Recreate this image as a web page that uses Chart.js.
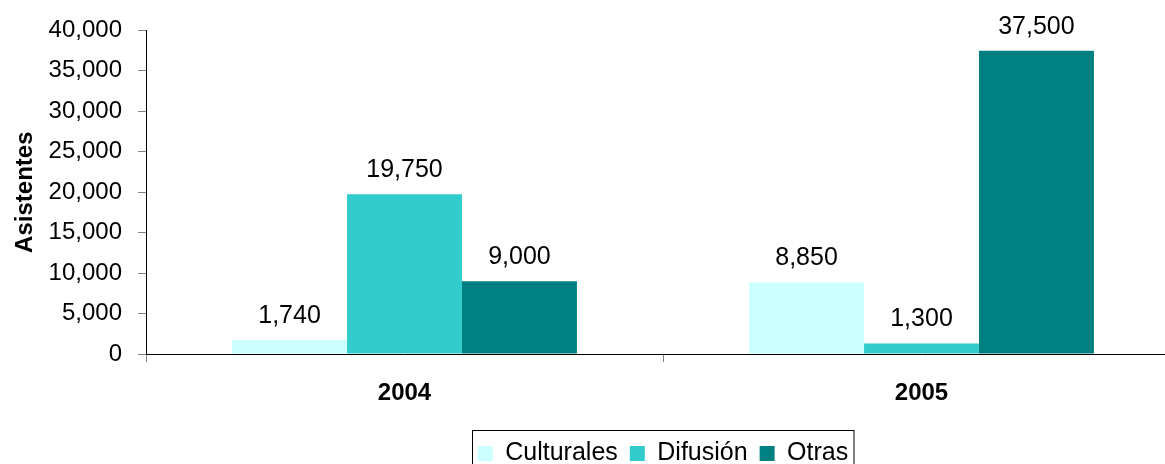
<!DOCTYPE html>
<html>
<head>
<meta charset="utf-8">
<script src="https://cdn.jsdelivr.net/npm/chart.js@4/dist/chart.umd.min.js"></script>
<style>
  html, body { margin: 0; padding: 0; background: #fff; overflow: hidden; }
  #clip { width: 1165px; height: 464px; overflow: hidden; }
  #wrap { width: 1180px; height: 476px; position: relative; }
</style>
</head>
<body>
<div id="clip"><div id="wrap"><canvas id="asistChart"></canvas></div></div>
<script>
// Asistentes por tipo de actividad, 2004-2005

const years = ['2004', '2005'];
const culturales = [1740, 8850];
const difusion = [19750, 1300];
const otras = [9000, 37500];
const yTicks = [0, 5000, 10000, 15000, 20000, 25000, 30000, 35000, 40000];

const FONT = 'Arial, "Liberation Sans", sans-serif';

// etiquetas de valor encima de cada barra
const valueLabels = {
    id: 'valueLabels',
    afterDatasetsDraw(chart) {
        const ctx = chart.ctx;
        ctx.save();
        ctx.font = '25px ' + FONT;
        ctx.fillStyle = '#000';
        ctx.textAlign = 'center';
        ctx.textBaseline = 'middle';
        chart.data.datasets.forEach((ds, i) => {
            chart.getDatasetMeta(i).data.forEach((bar, j) => {
                ctx.fillText(ds.data[j].toLocaleString('en-US'), bar.x, bar.y - 24);
            });
        });
        ctx.restore();
    }
};

// marco alrededor de la leyenda
const legendFrame = {
    id: 'legendFrame',
    afterDraw(chart) {
        const boxes = chart.legend.legendHitBoxes;
        if (!boxes || !boxes.length) return;
        let l = Infinity, r = -Infinity, t = Infinity;
        boxes.forEach(b => {
            l = Math.min(l, b.left);
            r = Math.max(r, b.left + b.width);
            t = Math.min(t, b.top);
        });
        const ctx = chart.ctx;
        ctx.save();
        ctx.strokeStyle = '#000';
        ctx.lineWidth = 1;
        ctx.strokeRect(Math.round(l - 6) + 0.5, Math.round(t - 11) + 0.5, r - l + 11, 60);
        ctx.restore();
    }
};

const ctx1 = document.getElementById('asistChart').getContext('2d');
new Chart(ctx1, {
    type: 'bar',
    data: {
        labels: years,
        datasets: [{
            label: 'Culturales',
            data: culturales,
            backgroundColor: '#CCFFFF'
        }, {
            label: 'Difusión',
            data: difusion,
            backgroundColor: '#33CCCC'
        }, {
            label: 'Otras',
            data: otras,
            backgroundColor: '#008080'
        }]
    },
    options: {
        responsive: true,
        maintainAspectRatio: false,
        animation: false,
        datasets: {
            bar: { categoryPercentage: 0.667, barPercentage: 1 }
        },
        layout: { padding: { top: 27, right: 0, left: 0, bottom: 0 } },
        scales: {
            x: {
                afterFit: function(scale) { scale.height = 75; },
                grid: { offset: true, drawOnChartArea: false, tickLength: 8, color: '#808080' },
                border: { color: '#000' },
                ticks: { font: { family: FONT, size: 24, weight: 'bold' }, color: '#000', padding: 17 }
            },
            y: {
                min: 0,
                max: 40000,
                afterFit: function(scale) { scale.width = 146; },
                afterBuildTicks: function(scale) {
                    scale.ticks = yTicks.map(v => ({ value: v }));
                },
                grid: { drawOnChartArea: false, tickLength: 8, color: '#808080' },
                border: { color: '#000' },
                title: {
                    display: true,
                    text: 'Asistentes',
                    font: { family: FONT, size: 24, weight: 'bold' },
                    color: '#000',
                    padding: { top: 11, bottom: 0 }
                },
                ticks: {
                    font: { family: FONT, size: 24 },
                    color: '#000',
                    padding: 16,
                    callback: function(value) {
                        return value.toLocaleString('en-US');
                    }
                }
            }
        },
        plugins: {
            legend: {
                position: 'bottom',
                fullSize: false,
                labels: {
                    font: { family: FONT, size: 25 },
                    color: '#000',
                    boxWidth: 15,
                    boxHeight: 15,
                    padding: 12
                }
            },
            tooltip: { enabled: false }
        }
    },
    plugins: [valueLabels, legendFrame]
});
</script>
</body>
</html>
